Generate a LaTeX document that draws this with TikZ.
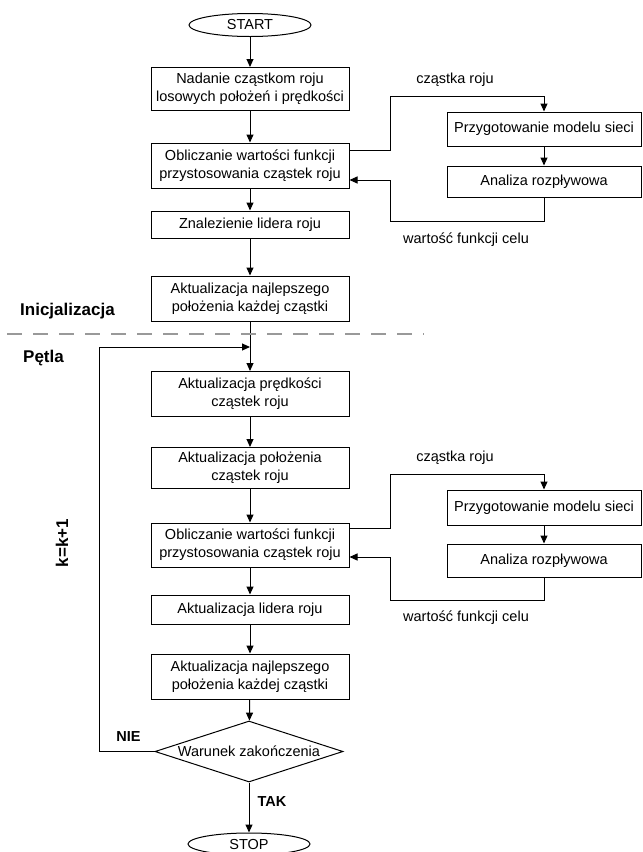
\documentclass[tikz,border=0pt]{standalone}
\usepackage{fontspec}
\setmainfont{Liberation Sans}
\usetikzlibrary{shapes.geometric,arrows.meta,calc}
\tikzset{
  base/.style={draw=black, line width=1pt, font=\fontsize{14.5}{18}\selectfont, align=center, inner sep=2pt},
  box/.style={base, rectangle, minimum width=198pt, minimum height=27pt},
  rbox/.style={base, rectangle, minimum width=194pt, minimum height=33pt},
  term/.style={base, ellipse, minimum width=122pt, minimum height=23pt, inner sep=0pt},
  decision/.style={base, diamond, aspect=3.08, minimum width=188pt, minimum height=61pt, inner sep=0pt},
  arr/.style={line width=1pt, -{Triangle[length=8pt,width=7pt]}},
  plain/.style={line width=1pt},
  lbl/.style={font=\fontsize{14.5}{18}\selectfont, inner sep=0pt},
  blbl/.style={font=\fontsize{14.5}{18}\selectfont\bfseries, inner sep=0pt},
  biglbl/.style={font=\fontsize{17}{20}\selectfont\bfseries, inner sep=0pt},
  dashline/.style={draw=gray!80, line width=1.5pt, dash pattern=on 15pt off 11pt}
}
\begin{document}
\begin{tikzpicture}[x=1pt,y=-1pt]
\useasboundingbox (0,0) rectangle (643,852);
% main column
\node[term] (start) at (250,25) {START};
\node[box, minimum height=43pt] (b1) at (250,89) {Nadanie cząstkom roju\\losowych położeń i prędkości};
\node[box, minimum height=45pt] (b2) at (250,165.5) {Obliczanie wartości funkcji\\przystosowania cząstek roju};
\node[box] (b3) at (250,224.5) {Znalezienie lidera roju};
\node[box, minimum height=45pt] (b4) at (250,298.5) {Aktualizacja najlepszego\\położenia każdej cząstki};
\node[box, minimum height=45pt] (b5) at (250,394) {Aktualizacja prędkości\\cząstek roju};
\node[box, minimum height=41pt] (b6) at (250,468) {Aktualizacja położenia\\cząstek roju};
\node[box, minimum height=44pt] (b7) at (250,545) {Obliczanie wartości funkcji\\przystosowania cząstek roju};
\node[box, minimum height=29pt] (b8) at (250,609.5) {Aktualizacja lidera roju};
\node[box, minimum height=45pt] (b9) at (250,676.5) {Aktualizacja najlepszego\\położenia każdej cząstki};
\node[decision] (dia) at (249,751.5) {Warunek zakończenia};
\node[term, minimum height=22pt] (stop) at (249,844) {STOP};
% right boxes
\node[rbox, minimum height=34pt] (p1) at (544,129) {Przygotowanie modelu sieci};
\node[rbox, minimum height=31pt] (a1) at (544,181.5) {Analiza rozpływowa};
\node[rbox, minimum height=35pt] (p2) at (544,507.5) {Przygotowanie modelu sieci};
\node[rbox, minimum height=33pt] (a2) at (544,560.5) {Analiza rozpływowa};
% main arrows
\draw[arr] (start) -- (b1);
\draw[arr] (b1) -- (b2);
\draw[arr] (b2) -- (b3);
\draw[arr] (b3) -- (b4);
\draw[arr] (b4) -- (b5);
\draw[arr] (b5) -- (b6);
\draw[arr] (b6) -- (b7);
\draw[arr] (b7) -- (b8);
\draw[arr] (b8) -- (b9);
\draw[arr] (b9) -- (dia);
\draw[arr] (dia) -- (stop);
\draw[arr] (p1) -- (a1);
\draw[arr] (p2) -- (a2);
% side loops
\draw[arr] ([yshift=15pt]b2.east) -- ++(41,0) |- ([yshift=15pt]p1.north) -- (p1.north);
\draw[arr] (a1.south) -- ++(0,24) -| ([xshift=41pt,yshift=-14.5pt]b2.east) -- ([yshift=-14.5pt]b2.east);
\draw[arr] ([yshift=17pt]b7.east) -- ++(41,0) |- ([yshift=15pt]p2.north) -- (p2.north);
\draw[arr] (a2.south) -- ++(0,23) -| ([xshift=41pt,yshift=-12pt]b7.east) -- ([yshift=-12pt]b7.east);
% main loop
\coordinate (lp) at (99,347);
\draw[arr] (dia.west) -| (lp) -- (lp -| b5.north);
% dashed separator
\coordinate (d1) at (7,334);
\coordinate (d2) at (424,334);
\draw[dashline] (d1) -- (d2);
% labels
\node[lbl] (l1) at (455,80) {cząstka roju};
\node[lbl] (l2) at (466,240) {wartość funkcji celu};
\node[lbl] (l3) at (455,458) {cząstka roju};
\node[lbl] (l4) at (466,618) {wartość funkcji celu};
\node[biglbl, anchor=west] (ini) at (20,311) {Inicjalizacja};
\node[biglbl, anchor=west] (pet) at (23,358) {Pętla};
\node[biglbl, rotate=90] (kk) at (62,543) {k=k+1};
\node[blbl] (nie) at (128.5,737) {NIE};
\node[blbl] (tak) at (272,802) {TAK};
\end{tikzpicture}
\end{document}
